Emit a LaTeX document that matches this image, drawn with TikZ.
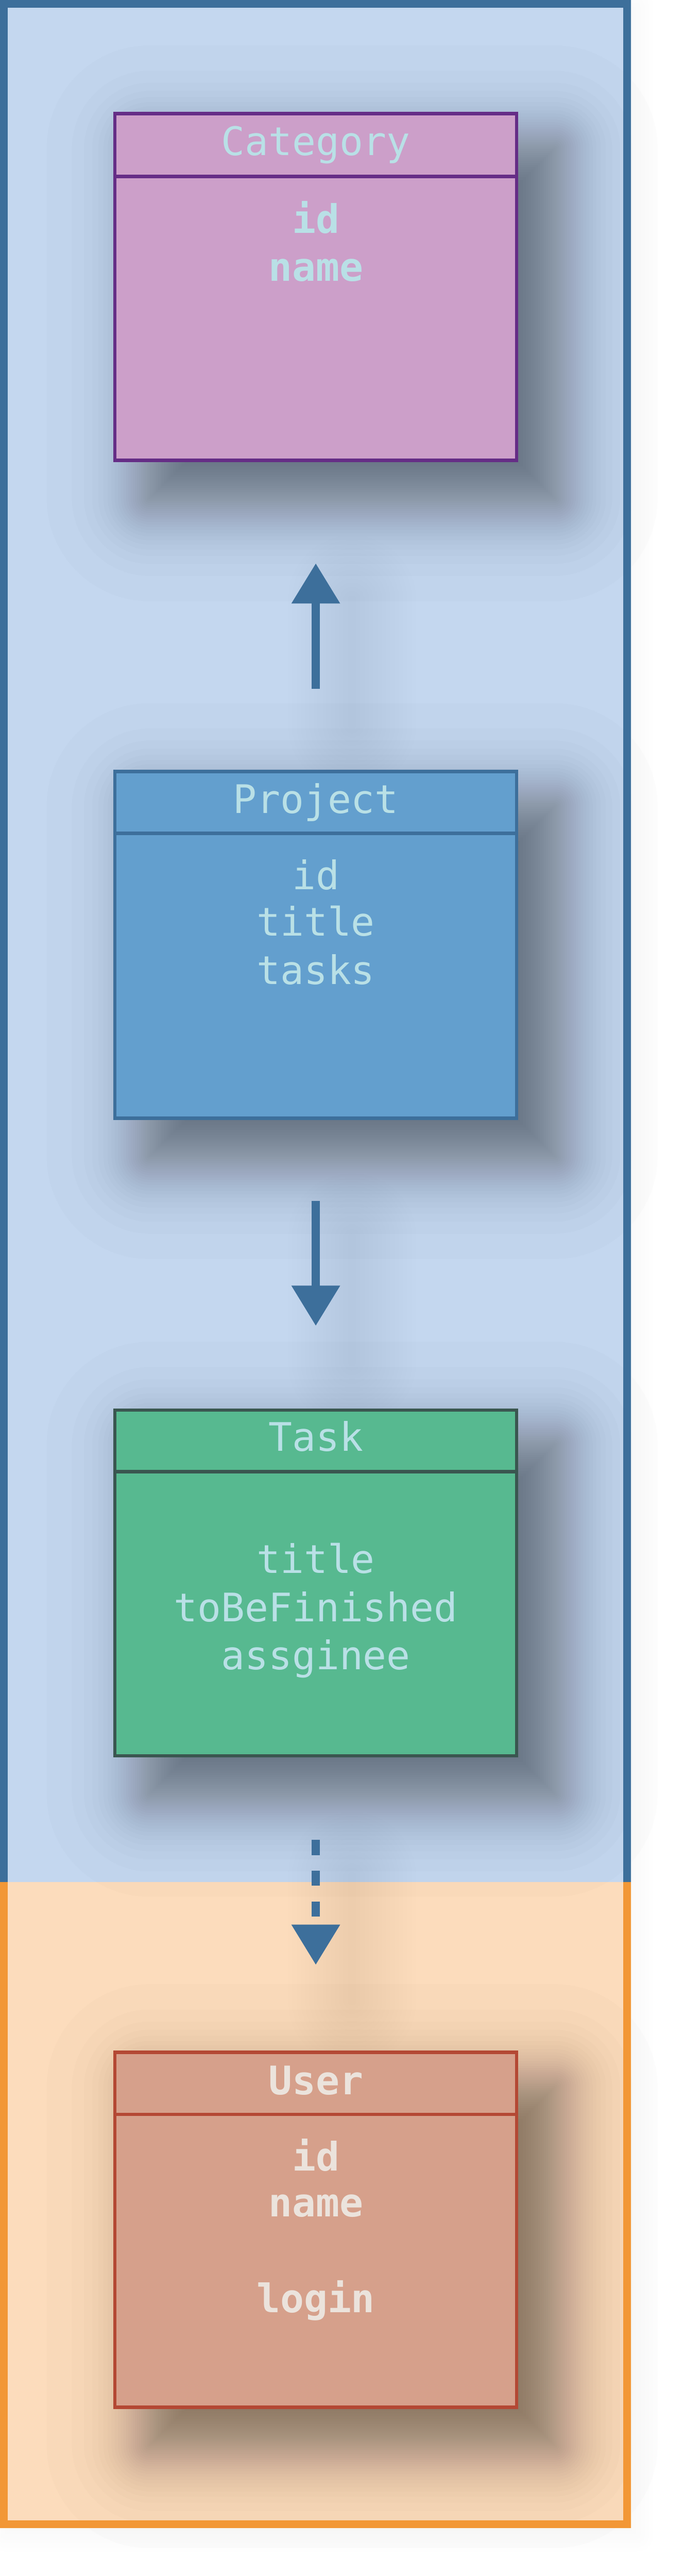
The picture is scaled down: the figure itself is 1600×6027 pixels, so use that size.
\documentclass[tikz,border=0pt]{standalone}
\usepackage{fontspec}
\setmonofont{DejaVu Sans Mono}
\usetikzlibrary{arrows.meta}
\definecolor{bluebg}{HTML}{C4D7EF}
\definecolor{blueln}{HTML}{3D6F9B}
\definecolor{orbg}{HTML}{FCDCBC}
\definecolor{orln}{HTML}{F29736}
\definecolor{catfill}{HTML}{CC9FC9}
\definecolor{catln}{HTML}{652D86}
\definecolor{projfill}{HTML}{639FCE}
\definecolor{projln}{HTML}{3D6F9B}
\definecolor{taskfill}{HTML}{57B990}
\definecolor{taskln}{HTML}{3A5650}
\definecolor{userfill}{HTML}{D6A08B}
\definecolor{userln}{HTML}{B44834}
\definecolor{cyantxt}{HTML}{B9E0E6}
\definecolor{usertxt}{HTML}{EBE3DC}

% smooth blurred drop shadow of a box (outer px corners), offset (85,85)
\newcommand\boxshade[4]{%
  \foreach \i in {0,...,47}{%
    \pgfmathsetmacro\e{52.9*ln((\i+0.5)/(47.5-\i))}%
    \pgfmathsetmacro\rc{max(\e,0.2)/2}%
    \fill[black, fill opacity=0.0124, rounded corners=\rc pt] ({#1+85-\e},{#2+85-\e}) rectangle ({#3+85+\e},{#4+85+\e});
  }}
% faint blurred shadow of a vertical arrow, offset (85,85)
\newcommand\arrowshade[3]{%
  \foreach \w in {10,20,...,150}{%
    \draw[black, draw opacity=0.0035, line width=\w pt, line cap=round] ({#1+85},{#2+85}) -- ({#1+85},{#3+85});
  }}

\tikzset{
  entity/.style={draw, line width=4pt, minimum width=470pt, inner sep=0pt},
  divline/.style={line width=4pt},
  ttl/.style={anchor=base, inner sep=0pt, font=\ttfamily\fontsize{46pt}{55pt}\selectfont},
  ttlb/.style={ttl, font=\ttfamily\bfseries\fontsize{46pt}{55pt}\selectfont},
  conn/.style={blueln, line width=9.25pt, -{Triangle[width=54.5pt,length=47pt]}},
}

\begin{document}
\begin{tikzpicture}[x=0.5pt, y=-0.5pt]
\useasboundingbox (0,0) rectangle (1600,6027);

% faint container shadow
\foreach \e in {-30,-20,-10,0,10,20,30,40}{%
  \pgfmathsetmacro\rc{max(\e,0.2)/2}%
  \fill[black, fill opacity=0.005, rounded corners=\rc pt] ({12-\e},{16-\e}) rectangle ({1489+\e},{5931+\e});
}

% container fills
\fill[bluebg] (0,0) rectangle (1477,4403);
\fill[orbg] (0,4403) rectangle (1477,5915);

% shadows of the entity boxes
\boxshade{265}{262}{1213}{1081}
\boxshade{265}{1801}{1213}{2620}
\boxshade{265}{3295}{1213}{4112}
\boxshade{265}{4798}{1213}{5636}

% shadows of the arrows
\arrowshade{739}{1318}{1611}
\arrowshade{739}{2810}{3102}
\arrowshade{739}{4305}{4597}

% container borders
\draw[blueln, line width=9pt] (9,4403) -- (9,9) -- (1468,9) -- (1468,4403);
\draw[orln, line width=9pt] (9,4403) -- (9,5906) -- (1468,5906) -- (1468,4403);

% entity boxes
\node[entity, fill=catfill, draw=catln, minimum height=405.5pt] (cat) at (739,671.5) {};
\node[entity, fill=projfill, draw=projln, minimum height=405.5pt] (proj) at (739,2210.5) {};
\node[entity, fill=taskfill, draw=taskln, minimum height=404.5pt] (task) at (739,3703.5) {};
\node[entity, fill=userfill, draw=userln, minimum height=415pt] (user) at (739,5217) {};

% header dividers
\coordinate (catdiv) at (739,413);
\coordinate (projdiv) at (739,1950);
\coordinate (taskdiv) at (739,3443);
\coordinate (userdiv) at (739,4947);
\draw[divline, catln] (cat.west |- catdiv) -- (cat.east |- catdiv);
\draw[divline, projln] (proj.west |- projdiv) -- (proj.east |- projdiv);
\draw[divline, taskln] (task.west |- taskdiv) -- (task.east |- taskdiv);
\draw[divline, userln] (user.west |- userdiv) -- (user.east |- userdiv);

% texts
\node[ttl, text=cyantxt] (catT) at (739,364) {Category};
\node[ttlb, text=cyantxt] (catA) at (739,545) {id};
\node[ttlb, text=cyantxt] (catB) at (739,657) {name};

\node[ttl, text=cyantxt] (projT) at (739,1903) {Project};
\node[ttl, text=cyantxt] (projA) at (739,2081) {id};
\node[ttl, text=cyantxt] (projB) at (739,2189) {title};
\node[ttl, text=cyantxt] (projC) at (739,2303) {tasks};

\node[ttl, text=cyantxt] (taskT) at (739,3395) {Task};
\node[ttl, text=cyantxt] (taskA) at (739,3681) {title};
\node[ttl, text=cyantxt] (taskB) at (739,3794) {toBeFinished};
\node[ttl, text=cyantxt] (taskC) at (739,3906) {assginee};

\node[ttlb, text=usertxt] (userT) at (739,4900) {User};
\node[ttlb, text=usertxt] (userA) at (739,5079) {id};
\node[ttlb, text=usertxt] (userB) at (739,5186) {name};
\node[ttlb, text=usertxt] (userC) at (739,5410) {login};

% connectors
\draw[conn, shorten <=95pt, shorten >=118.5pt] (proj.north) -- (cat.south);
\draw[conn, shorten <=95pt, shorten >=96.5pt] (proj.south) -- (task.north);
\draw[conn, dash pattern=on 17.5pt off 18.5pt, shorten <=96.5pt, shorten >=100.5pt] (task.south) -- (user.north);
\end{tikzpicture}
\end{document}
